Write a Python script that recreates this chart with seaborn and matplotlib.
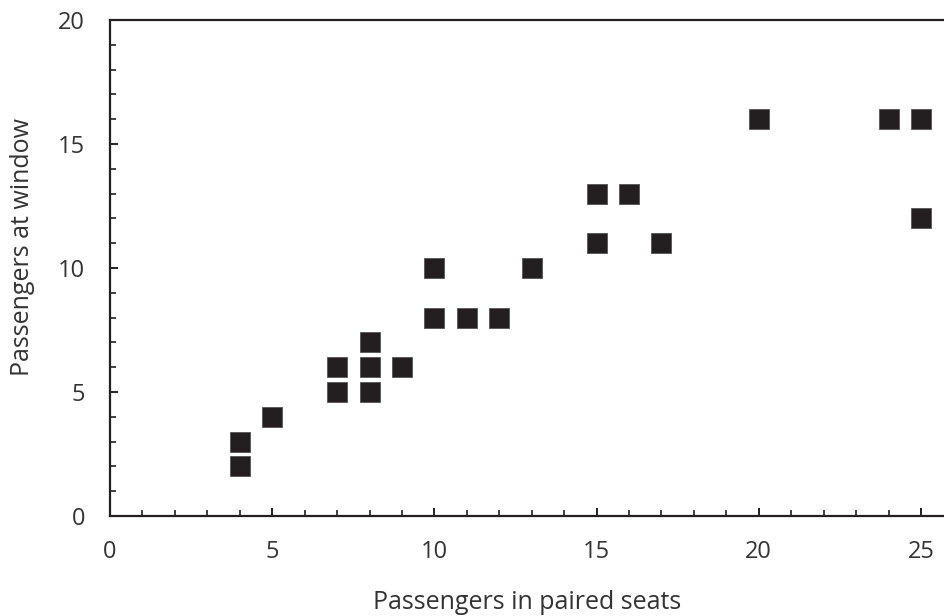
import matplotlib
matplotlib.use("Agg")
import matplotlib.pyplot as plt
import seaborn as sns
import pandas as pd
from matplotlib.ticker import MultipleLocator

paired_seats = [4, 4, 5, 7, 7, 8, 8, 8, 9, 10, 10, 11, 12, 13, 15, 15, 16, 17, 20, 24, 25, 25]
at_window = [2, 3, 4, 5, 6, 5, 6, 7, 6, 8, 10, 8, 8, 10, 11, 13, 13, 11, 16, 16, 16, 12]

df = pd.DataFrame({"Passengers in paired seats": paired_seats,
                   "Passengers at window": at_window})

sns.set_style("white")
plt.rcParams['font.family'] = ['Open Sans', 'DejaVu Sans']

fig = plt.figure(figsize=(9.45, 6.16), dpi=100)
ax = fig.add_axes([110/945, 100/616, 1 - 110/945, 496/616])

sns.scatterplot(data=df, x="Passengers in paired seats", y="Passengers at window",
                marker="s", s=190, color="#231f20", edgecolor="#555555", linewidth=0.6,
                ax=ax, zorder=3, clip_on=False)

ax.set_xlim(0, 25.74)
ax.set_ylim(0, 20)
ax.xaxis.set_major_locator(MultipleLocator(5))
ax.xaxis.set_minor_locator(MultipleLocator(1))
ax.yaxis.set_major_locator(MultipleLocator(5))
ax.yaxis.set_minor_locator(MultipleLocator(1))

for side in ["left", "bottom", "top"]:
    ax.spines[side].set_visible(True)
    ax.spines[side].set_color("#231f20")
    ax.spines[side].set_linewidth(1.6)
ax.spines["right"].set_visible(False)

ax.tick_params(axis="both", which="major", direction="in", length=6, width=1.4,
               color="#231f20", labelsize=17, labelcolor="#333333")
ax.tick_params(axis="both", which="minor", direction="in", length=4, width=1.2,
               color="#231f20")
ax.tick_params(axis="x", which="both", pad=17, top=False, bottom=True)
ax.tick_params(axis="y", which="both", pad=18, left=True, right=False)

ax.set_xlabel("Passengers in paired seats", fontsize=18, color="#333333", labelpad=19)
ax.set_ylabel("Passengers at window", fontsize=18, color="#333333")
ax.yaxis.set_label_coords(-0.090, 0.542)

fig.savefig("out.png", dpi=100)
